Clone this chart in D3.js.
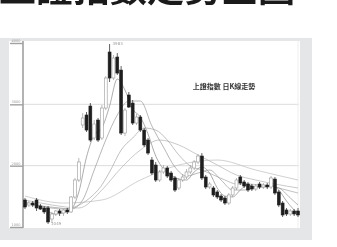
<!DOCTYPE html>
<html>
<head>
<meta charset="utf-8">
<script src="https://cdn.jsdelivr.net/npm/d3@7"></script>
<style>
  html, body { margin: 0; padding: 0; background: #fff; }
  #vis svg { display: block; filter: blur(0.45px); }
</style>
</head>
<body>
<div id="vis"></div>
<script>
// daily candles, index points
const openV  = [1440,1359,1391,1440,1342,1310,1310,1130,1212,1261,1228,1277,1245,1489,1766,2663,2826,2972,2451,2744,2451,2940,3853,3429,3771,3559,2532,3152,3021,2695,2793,2581,2418,2092,2011,1766,1897,1962,1880,1799,1636,1766,1815,1897,1962,2060,2157,1815,1652,1636,1571,1505,1473,1391,1522,1636,1815,1734,1701,1668,1619,1701,1652,1685,1652,1782,1571,1391,1277,1212,1261,1261]
const highV  = [1473,1424,1424,1473,1375,1342,1342,1245,1277,1293,1293,1310,1505,1799,2125,2858,2875,3021,2744,2777,2989,3461,3983,3804,3836,3624,2940,3201,3070,2842,2826,2614,2451,2141,2060,1929,2011,1994,1913,1831,1799,1864,1945,2011,2092,2190,2206,1848,1734,1668,1603,1538,1505,1554,1668,1799,1848,1766,1734,1701,1701,1734,1717,1717,1831,1815,1603,1424,1310,1293,1293,1310]
const lowV   = [1293,1326,1326,1261,1277,1212,1049,1065,1179,1179,1179,1212,1228,1456,1734,2614,2549,2386,2418,2386,2418,2907,3364,3396,3478,2500,2483,2940,2663,2663,2549,2304,2174,1848,1734,1734,1864,1799,1734,1571,1603,1734,1782,1864,1929,2027,1766,1619,1619,1489,1456,1408,1359,1359,1489,1603,1685,1636,1571,1587,1587,1619,1619,1619,1619,1522,1326,1163,1179,1179,1179,1163]
const closeV = [1326,1391,1359,1310,1293,1245,1082,1212,1261,1228,1277,1245,1489,1766,2060,2777,2581,2418,2679,2418,2940,3429,3429,3755,3510,2532,2907,2956,2695,2793,2581,2337,2206,1880,1766,1897,1962,1831,1766,1603,1766,1815,1897,1962,2060,2157,1799,1652,1701,1522,1489,1440,1391,1522,1636,1766,1717,1668,1603,1619,1668,1652,1685,1652,1799,1554,1359,1196,1212,1261,1212,1196]

// moving average lines, [day, value]
const ma5  = [[4,1342],[8,1212],[12,1293],[14,1571],[16,2141],[18,2500],[20,2614],[22,2972],[24,3412],[26,3233],[28,2923],[30,2793],[32,2516],[34,2157],[36,1945],[38,1848],[40,1782],[42,1766],[44,1897],[46,1978],[48,1880],[50,1636],[52,1505],[54,1489],[56,1603],[58,1685],[60,1652],[62,1652],[64,1685],[66,1603],[68,1424],[71,1212]]
const ma10 = [[0,1375],[9,1310],[12,1293],[15,1440],[18,1929],[21,2418],[24,2826],[27,3054],[30,3054],[33,2647],[36,2304],[39,1978],[42,1831],[45,1880],[48,1929],[51,1766],[54,1603],[57,1603],[60,1652],[63,1668],[66,1636],[69,1473],[71,1359]]
const ma20 = [[0,1408],[10,1293],[19,1603],[22,1897],[25,2255],[28,2451],[31,2614],[34,2581],[37,2418],[40,2174],[43,1994],[46,1929],[49,1848],[52,1766],[55,1701],[58,1701],[61,1685],[64,1668],[67,1619],[71,1554]]
const ma30 = [[0,1440],[7,1359],[14,1310],[20,1603],[25,1962],[30,2255],[35,2418],[40,2337],[45,2174],[50,2011],[55,1848],[60,1766],[65,1701],[71,1636]]
const ma60 = [[0,1505],[10,1391],[20,1440],[30,1766],[40,2011],[50,2092],[60,1929],[71,1766]]
const maLines = [ma60, ma30, ma20, ma10, ma5]
const maColors = ['#bdbdbd', '#b2b2b2', '#a6a6a6', '#989898', '#888']

const yTicks = [1000, 2000, 3000, 4000]
const title = '上證指數走勢全圖'
const legendText = '上證指數 日K線走勢'

const W = 337, H = 247
const plot = { left: 23, right: 299, top: 43, bottom: 227 }

const svg = d3.select('#vis')
    .append('svg')
    .attr('width', W)
    .attr('height', H)

// title, cut at the top edge as in the print
svg.append('text')
    .attr('x', -1)
    .attr('y', 2)
    .attr('font-family', '"Noto Sans CJK TC", "Noto Sans CJK SC", sans-serif')
    .attr('font-weight', 700)
    .attr('font-size', 37)
    .attr('fill', '#1a1a1a')
    .text(title)

// grey panel and white plot area
svg.append('rect')
    .attr('x', 0).attr('y', 38)
    .attr('width', 312).attr('height', 202)
    .attr('fill', '#e5e6e7')
svg.append('rect')
    .attr('x', 9).attr('y', 41)
    .attr('width', 291).attr('height', 187)
    .attr('fill', '#fff')

const days = d3.range(openV.length)
const data = days.map(i => ({ i, o: openV[i], h: highV[i], l: lowV[i], c: closeV[i] }))

const xScale = d3.scaleLinear()
    .domain([0, days.length - 1])
    .range([plot.left + 2, plot.right - 1])
const yScale = d3.scaleLinear()
    .domain([1000, 4000])
    .range([plot.bottom, plot.top])

// gridlines
svg.append('g')
    .selectAll('line')
    .data(yTicks.slice(1, 3))
    .join('line')
    .attr('x1', plot.left).attr('x2', 299)
    .attr('y1', d => yScale(d)).attr('y2', d => yScale(d))
    .attr('stroke', '#dcdcdc')
    .attr('stroke-width', 1)

svg.append('line')
    .attr('x1', 298).attr('x2', 298)
    .attr('y1', 41).attr('y2', 228)
    .attr('stroke', '#eeeeee')

// y axis
const yAxis = d3.axisLeft(yScale)
    .tickValues(yTicks)
    .tickSize(13)
    .tickFormat(d3.format('d'))

const ga = svg.append('g')
    .attr('transform', `translate(${plot.left},0)`)
    .call(yAxis)
ga.select('.domain')
    .attr('d', `M0,41V228`)
    .attr('stroke', '#9a9a9a')
    .attr('stroke-width', 1.5)
ga.selectAll('.tick line')
    .attr('stroke', '#a0a0a0')
    .attr('stroke-width', 1.4)
ga.selectAll('.tick text')
    .attr('x', -7)
    .attr('dy', -1.5)
    .attr('text-anchor', 'middle')
    .attr('font-size', 3.5)
    .attr('font-family', 'DejaVu Sans, sans-serif')
    .attr('fill', '#999')

// moving averages
const line = d3.line()
    .x(d => xScale(d[0]))
    .y(d => yScale(d[1]))
    .curve(d3.curveMonotoneX)

svg.append('g')
    .selectAll('path')
    .data(maLines)
    .join('path')
    .attr('d', line)
    .attr('fill', 'none')
    .attr('stroke', (d, k) => maColors[k])
    .attr('stroke-width', 0.7)

// candles
const bw = 2.9
const candles = svg.append('g')
    .selectAll('g')
    .data(data)
    .join('g')
const isUp = d => d.c >= d.o

candles.append('line')
    .attr('x1', d => xScale(d.i)).attr('x2', d => xScale(d.i))
    .attr('y1', d => yScale(d.h)).attr('y2', d => yScale(d.l))
    .attr('stroke', d => isUp(d) ? '#999' : '#1e1e1e')
    .attr('stroke-width', 0.7)

candles.append('rect')
    .attr('x', d => xScale(d.i) - bw / 2)
    .attr('y', d => yScale(Math.max(d.o, d.c)))
    .attr('width', bw)
    .attr('height', d => Math.max(0.8, Math.abs(yScale(d.o) - yScale(d.c))))
    .attr('fill', d => isUp(d) ? '#fff' : '#1e1e1e')
    .attr('stroke', d => isUp(d) ? '#999' : '#1e1e1e')
    .attr('stroke-width', 0.6)

// high / low notes
const hiDay = data[d3.maxIndex(data, d => d.h)]
const loDay = data[d3.minIndex(data, d => d.l)]
svg.append('text')
    .attr('x', xScale(hiDay.i) + 3).attr('y', yScale(hiDay.h) + 1)
    .attr('font-size', 4).attr('fill', '#999')
    .attr('font-family', 'DejaVu Sans, sans-serif')
    .text(hiDay.h)
svg.append('text')
    .attr('x', xScale(loDay.i) + 3).attr('y', yScale(loDay.l) + 1)
    .attr('font-size', 4).attr('fill', '#999')
    .attr('font-family', 'DejaVu Sans, sans-serif')
    .text(loDay.l)

// legend
svg.append('text')
    .attr('x', 224).attr('y', 89)
    .attr('text-anchor', 'middle')
    .attr('font-family', '"Noto Sans CJK TC", sans-serif')
    .attr('font-weight', 700)
    .attr('font-size', 7)
    .attr('fill', '#333')
    .text(legendText)
</script>
</body>
</html>
